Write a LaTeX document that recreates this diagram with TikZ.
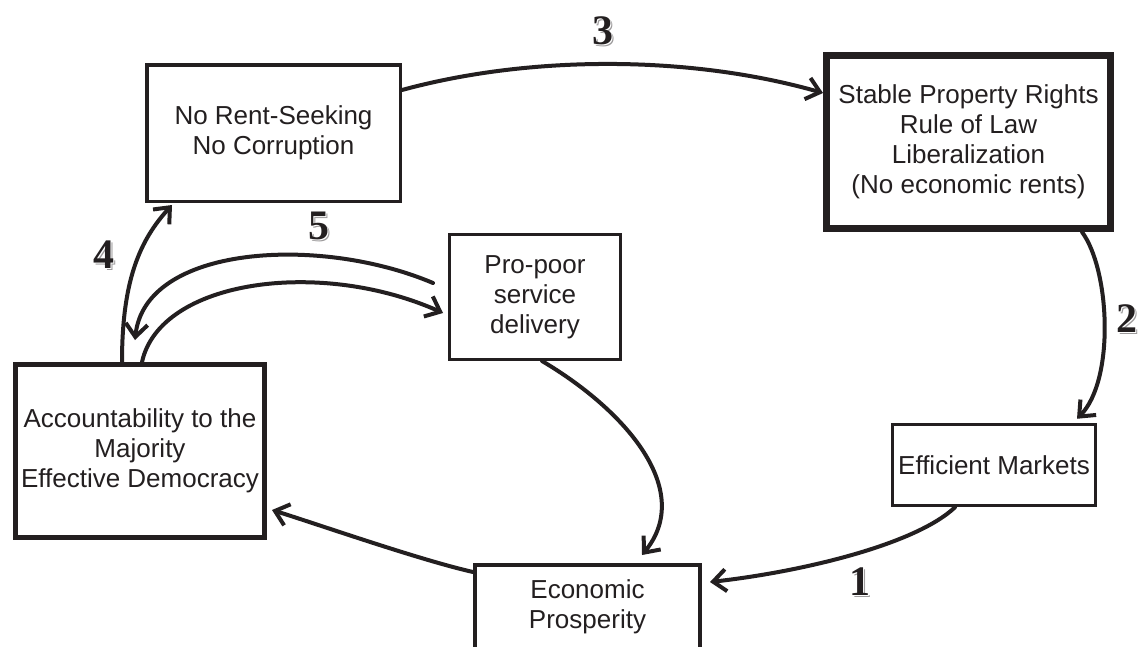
\documentclass[tikz,border=0pt]{standalone}
\usepackage{fontspec}
\setmainfont{Liberation Sans}
\newfontfamily\digitfont{Liberation Serif}
\usetikzlibrary{arrows.meta}
\definecolor{ink}{HTML}{231F20}
\newcommand\engr[1]{\makebox[0pt][l]{\hspace{2pt}\raisebox{-2pt}{\color{ink!45}#1}}\makebox[0pt][l]{\hspace{1pt}\raisebox{-1pt}{\color{white}#1}}#1}
\begin{document}
\begin{tikzpicture}[x=1pt,y=-1pt,
  box/.style={draw=ink, rectangle, inner sep=0pt, align=center, text=ink,
    font=\fontsize{26}{30}\selectfont},
  conn/.style={draw=ink, line width=4pt, line cap=round,
    -{Straight Barb[length=13pt,width=22pt]}},
  numlbl/.style={text=ink, font=\digitfont\bfseries\fontsize{42}{42}\selectfont, inner sep=0pt}
]
\useasboundingbox[fill=white] (0,0) rectangle (1142,646);

% boxes
\node[box, line width=3.5pt, minimum width=253.5pt, minimum height=136.5pt] (norent) at (273.5,133) {No Rent-Seeking\\No Corruption};
\node[box, line width=7pt, minimum width=284pt, minimum height=173pt] (stable) at (968.5,142) {Stable Property Rights\\Rule of Law\\Liberalization\\(No economic rents)};
\node[box, line width=3pt, minimum width=171pt, minimum height=125pt] (propoor) at (535,297) {Pro-poor\\service\\delivery};
\node[box, line width=5pt, minimum width=249pt, minimum height=173pt] (account) at (140,451) {Accountability to the\\Majority\\Effective Democracy};
\node[box, line width=3.5pt, minimum width=203pt, minimum height=81pt] (effic) at (994,465) {Efficient Markets};
\node[box, line width=4pt, minimum width=225pt, minimum height=84pt] (econ) at (587.5,607) {Economic\\Prosperity};

% numbers
\node[numlbl] (n3) at (603,32) {\engr{3}};
\node[numlbl] (n2) at (1127,320) {\engr{2}};
\node[numlbl] (n1) at (860,583) {\engr{1}};
\node[numlbl] (n4) at (104,256) {\engr{4}};
\node[numlbl] (n5) at (319,227) {\engr{5}};

% connectors
\draw[conn] ([yshift=43pt]norent.east) .. controls (530,55) and (690,55) .. ([yshift=49pt]stable.west);
\draw[conn] ([xshift=113.5pt]stable.south) .. controls (1110,270) and (1115,380) .. ([xshift=83pt,yshift=4pt]effic.north);
\draw[conn] ([xshift=-39pt]effic.south) .. controls (915,545) and (800,572) .. ([xshift=8pt,yshift=25pt]econ.east);
\draw[conn] ([xshift=7pt]propoor.south) .. controls (625,410) and (695,490) .. ([xshift=54.5pt,yshift=8pt]econ.north);
\draw[conn] ([yshift=35pt]econ.west) .. controls (420,560) and (320,525) .. ([xshift=5pt,yshift=-59pt]account.east);
\draw[conn] ([xshift=-18pt]account.north) .. controls (122,280) and (140,240) .. ([xshift=-101.5pt,yshift=-2pt]norent.south);
\draw[conn] ([xshift=-15pt,yshift=14pt]propoor.west) .. controls (320,235) and (145,245) .. ([xshift=-5pt,yshift=22pt]account.north);
\draw[conn] ([xshift=2pt]account.north) .. controls (160,280) and (320,258) .. ([xshift=-5pt,yshift=-16pt]propoor.west);
\end{tikzpicture}
\end{document}
